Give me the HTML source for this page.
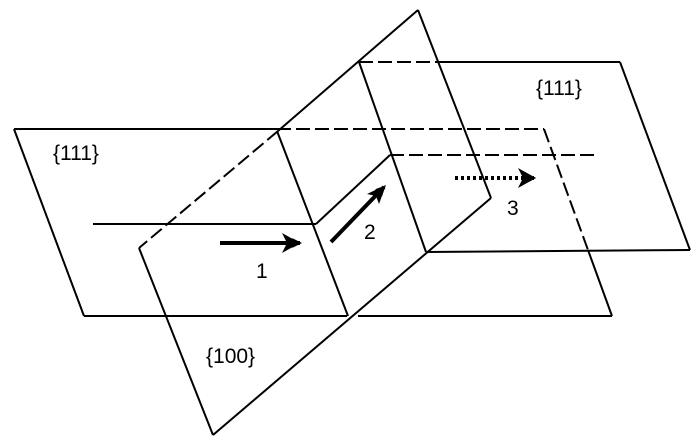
<!DOCTYPE html>
<html><head><meta charset="utf-8"><style>
html,body{margin:0;padding:0;background:#fff;}
svg{display:block;}
text{font-family:"Liberation Sans",Arial,sans-serif;font-size:21px;fill:#000;}
</style></head><body>
<svg width="700" height="445" viewBox="0 0 700 445" xmlns="http://www.w3.org/2000/svg">
<defs>
<marker id="ah" markerWidth="10" markerHeight="10" refX="8" refY="5" orient="auto" markerUnits="userSpaceOnUse">
<path d="M0,0 L10,5 L0,10 L3,5 Z" fill="#000"/>
</marker>
</defs>
<g stroke="#000" stroke-width="2" fill="none">
<line x1="14" y1="129" x2="277" y2="129"/>
<line x1="277" y1="129" x2="544" y2="129" stroke-dasharray="14,5"/>
<line x1="544" y1="129" x2="588" y2="250" stroke-dasharray="14,5"/>
<line x1="588" y1="250" x2="612" y2="316"/>
<line x1="14" y1="129" x2="84" y2="316"/>
<line x1="84" y1="316" x2="347" y2="316"/>
<line x1="358" y1="316" x2="612" y2="316"/>
<line x1="418" y1="10" x2="278" y2="131"/>
<line x1="278" y1="131" x2="139" y2="248" stroke-dasharray="14,5"/>
<line x1="139" y1="248" x2="213" y2="435"/>
<line x1="213" y1="435" x2="491" y2="198"/>
<line x1="418" y1="10" x2="491" y2="198"/>
<line x1="359" y1="62" x2="440" y2="62" stroke-dasharray="14,5"/>
<line x1="440" y1="62" x2="620" y2="62"/>
<line x1="620" y1="62" x2="690" y2="250"/>
<line x1="690" y1="250" x2="426" y2="252"/>
<line x1="359" y1="62" x2="426" y2="252"/>
<line x1="93" y1="224" x2="316" y2="224"/>
<line x1="316" y1="224" x2="390" y2="155"/>
<line x1="390" y1="155" x2="595" y2="155" stroke-dasharray="14,5"/>
<line x1="277" y1="131" x2="348" y2="316"/>
<line x1="220" y1="243" x2="300" y2="243" stroke-width="4" marker-end="url(#ah)"/>
<line x1="331" y1="242" x2="384" y2="187" stroke-width="4" marker-end="url(#ah)"/>
<line x1="455" y1="178" x2="534" y2="178" stroke-width="4" stroke-dasharray="3,3" marker-end="url(#ah)"/>
</g>
<path d="M300,243 l-18,-10 l5,10 l-5,10 z" fill="#000"/>
<path d="M386,185 l-7,19 l-3,-8 l-9,-2 z" fill="#000"/>
<path d="M536,178 l-18,-10 l5,10 l-5,10 z" fill="#000"/>
<text x="53" y="160">{111}</text>
<text x="536" y="95">{111}</text>
<text x="206" y="363">{100}</text>
<text x="256" y="278">1</text>
<text x="364" y="239">2</text>
<text x="507" y="215">3</text>
</svg>
</body></html>
